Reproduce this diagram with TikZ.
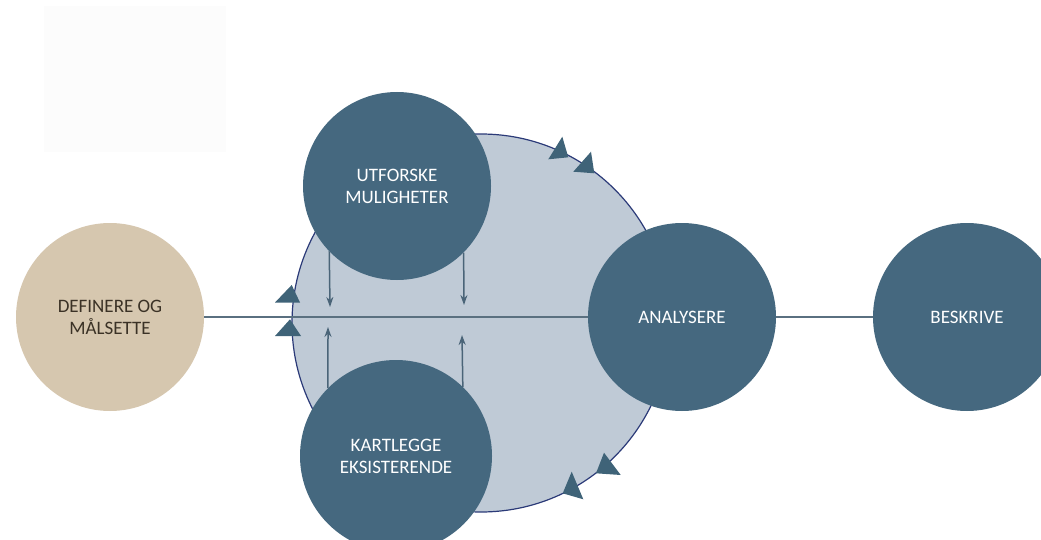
\documentclass[tikz,border=0pt]{standalone}
\usepackage{fontspec}
\setmainfont{Carlito}
\usetikzlibrary{arrows.meta}
\definecolor{darkc}{HTML}{45687F}
\definecolor{blobc}{HTML}{BFCAD6}
\definecolor{blobline}{HTML}{2B3A78}
\definecolor{beige}{HTML}{D6C7AF}
\definecolor{beigetext}{HTML}{3B3226}
\definecolor{linec}{HTML}{5A7080}
\definecolor{arrc}{HTML}{4A6478}
\definecolor{tric}{HTML}{3F6378}
\definecolor{faint}{HTML}{FCFCFC}
\tikzset{
  stage/.style={circle, fill=darkc, minimum size=188pt, inner sep=0pt, align=center,
    text=white, font=\fontsize{19pt}{22pt}\selectfont},
  firststage/.style={stage, fill=beige, text=beigetext},
  link/.style={draw=linec, line width=2pt},
  flowarrow/.style={draw=arrc, line width=1.5pt, -{Stealth[length=10pt,width=7pt]}},
  tri/.style={fill=tric}
}
\begin{document}
\begin{tikzpicture}[x=1pt,y=-1pt]
\useasboundingbox (0,0) rectangle (1041,540);
\fill[faint] (44,6) rectangle (226,152);
% big blob
\node[circle, fill=blobc, draw=blobline, line width=1.2pt, minimum size=378pt, inner sep=0pt] (blob) at (481,323) {};
% triangles on blob border
\fill[tri] (291.7,285) -- (275,302.5) -- (300,302.5) -- cycle;
\fill[tri] (290,319.3) -- (275,336) -- (301,336) -- cycle;
\fill[tri] (562.3,136.7) -- (548.3,159.3) -- (568.3,157.3) -- cycle;
\fill[tri] (591,151.7) -- (573.3,171.7) -- (594.3,173.3) -- cycle;
\fill[tri] (604,452.7) -- (596,473.3) -- (620.7,475) -- cycle;
\fill[tri] (571.7,471.7) -- (562.7,493.3) -- (583.3,499.3) -- cycle;
% stages
\node[firststage] (def) at (110,317) {DEFINERE OG\\MÅLSETTE};
\node[stage] (utf) at (397,186) {UTFORSKE\\MULIGHETER};
\node[stage, minimum size=192pt] (kart) at (396,456) {KARTLEGGE\\EKSISTERENDE};
\node[stage] (ana) at (682,317) {ANALYSERE};
\node[stage] (bes) at (967,317) {BESKRIVE};
% connectors
\draw[link] (def) -- (ana);
\draw[link] (ana) -- (bes);
\coordinate (d1) at (330,307);
\coordinate (d2) at (464,305);
\coordinate (u1) at (328,327);
\coordinate (u2) at (462,335);
\draw[flowarrow] (utf.224.6) -- (d1);
\draw[flowarrow] (utf.315.4) -- (d2);
\draw[flowarrow] (kart.135) -- (u1);
\draw[flowarrow] (kart.46.6) -- (u2);
\end{tikzpicture}
\end{document}
